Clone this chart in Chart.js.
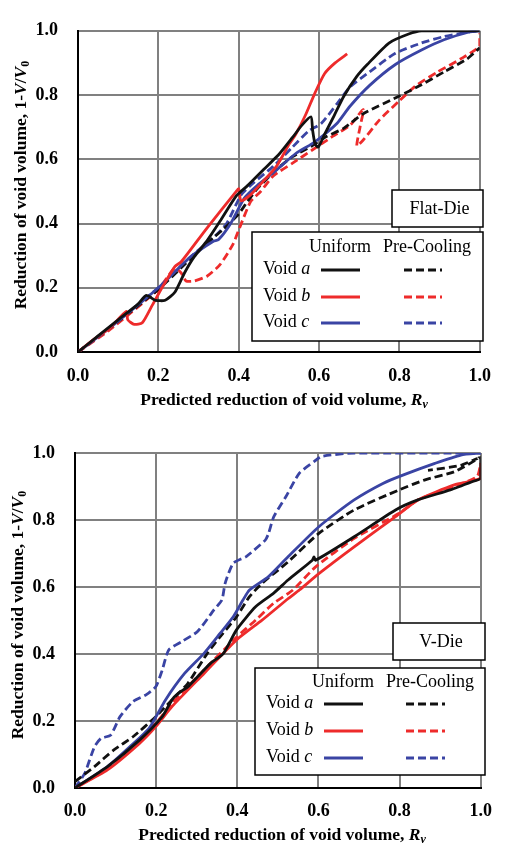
<!DOCTYPE html>
<html>
<head>
<meta charset="utf-8">
<script src="https://cdn.jsdelivr.net/npm/chart.js@4.4.1/dist/chart.umd.min.js"></script>
<style>
body { margin: 0; background: #fff; }
canvas { display: block; }
</style>
</head>
<body>
<canvas id="flat" width="505" height="420"></canvas>
<canvas id="vdie" width="505" height="425"></canvas>
<script>
// points are [predicted reduction Rv, measured reduction 1-V/V0]

// Flat-Die
const flatUniformA = [[0,0],[0.05,0.05],[0.1,0.1],[0.15,0.15],[0.17,0.176],[0.193,0.161],[0.217,0.161],[0.241,0.186],[0.265,0.246],[0.289,0.296],[0.321,0.346],[0.353,0.406],[0.394,0.486],[0.422,0.518],[0.462,0.568],[0.502,0.618],[0.534,0.668],[0.558,0.707],[0.58,0.732],[0.584,0.69],[0.59,0.648],[0.598,0.638],[0.614,0.678],[0.638,0.737],[0.662,0.797],[0.694,0.858],[0.72,0.895],[0.774,0.962],[0.823,0.99],[0.855,1.0],[1.0,1.0]]
const flatUniformB = [[0,0],[0.04,0.04],[0.08,0.076],[0.12,0.126],[0.124,0.1],[0.14,0.086],[0.16,0.091],[0.185,0.146],[0.209,0.2],[0.241,0.266],[0.257,0.281],[0.321,0.386],[0.394,0.5],[0.4,0.508],[0.406,0.471],[0.43,0.49],[0.46,0.53],[0.494,0.578],[0.526,0.648],[0.542,0.678],[0.566,0.737],[0.59,0.807],[0.614,0.867],[0.64,0.9],[0.67,0.928]]
const flatUniformC = [[0,0],[0.08,0.076],[0.2,0.2],[0.28,0.296],[0.337,0.345],[0.35,0.35],[0.38,0.4],[0.414,0.479],[0.446,0.518],[0.486,0.558],[0.542,0.618],[0.582,0.648],[0.614,0.678],[0.645,0.712],[0.677,0.765],[0.726,0.83],[0.79,0.895],[0.855,0.94],[0.911,0.972],[0.976,0.997],[1.0,1.0]]
const flatPreA = [[0,0],[0.08,0.076],[0.2,0.195],[0.28,0.29],[0.337,0.356],[0.36,0.38],[0.4,0.43],[0.422,0.469],[0.446,0.508],[0.494,0.568],[0.534,0.608],[0.58,0.64],[0.614,0.668],[0.662,0.697],[0.71,0.742],[0.8,0.797],[0.855,0.832],[0.911,0.872],[0.968,0.912],[1.0,0.947]]
const flatPreB = [[0,0],[0.08,0.07],[0.2,0.195],[0.241,0.262],[0.257,0.246],[0.269,0.221],[0.289,0.221],[0.321,0.236],[0.353,0.271],[0.386,0.336],[0.402,0.386],[0.43,0.469],[0.454,0.499],[0.486,0.548],[0.534,0.588],[0.582,0.628],[0.63,0.668],[0.678,0.707],[0.71,0.755],[0.702,0.7],[0.694,0.642],[0.71,0.66],[0.75,0.722],[0.8,0.782],[0.839,0.827],[0.895,0.872],[0.952,0.912],[1.0,0.952],[1.0,0.992]]
const flatPreC = [[0,0],[0.08,0.078],[0.2,0.2],[0.28,0.296],[0.337,0.356],[0.37,0.4],[0.406,0.489],[0.438,0.528],[0.486,0.578],[0.534,0.638],[0.574,0.688],[0.606,0.712],[0.646,0.775],[0.677,0.825],[0.718,0.865],[0.79,0.93],[0.855,0.962],[0.911,0.982],[0.976,0.997],[1.0,1.0]]

// V-Die
const vUniformA = [[0,0],[0.08,0.064],[0.159,0.143],[0.215,0.213],[0.239,0.263],[0.255,0.283],[0.278,0.302],[0.302,0.332],[0.334,0.372],[0.366,0.402],[0.398,0.472],[0.445,0.541],[0.489,0.581],[0.525,0.621],[0.585,0.68],[0.589,0.69],[0.593,0.68],[0.688,0.75],[0.79,0.83],[0.845,0.86],[0.925,0.89],[0.98,0.915],[1.0,0.925],[1.0,0.99]]
const vUniformB = [[0,0],[0.08,0.054],[0.159,0.133],[0.199,0.183],[0.239,0.243],[0.318,0.342],[0.398,0.442],[0.461,0.501],[0.525,0.565],[0.553,0.591],[0.601,0.64],[0.688,0.72],[0.79,0.81],[0.845,0.86],[0.935,0.905],[1.0,0.925],[1.0,0.97]]
const vUniformC = [[0,0],[0.08,0.064],[0.135,0.123],[0.183,0.179],[0.223,0.263],[0.27,0.342],[0.318,0.402],[0.358,0.462],[0.39,0.511],[0.414,0.561],[0.43,0.591],[0.477,0.631],[0.525,0.69],[0.601,0.78],[0.688,0.86],[0.76,0.91],[0.808,0.934],[0.887,0.969],[0.951,0.994],[1.0,1.0]]
const vPreA = [[0,0.019],[0.048,0.064],[0.095,0.113],[0.143,0.153],[0.199,0.213],[0.239,0.263],[0.278,0.312],[0.326,0.402],[0.358,0.452],[0.398,0.511],[0.43,0.571],[0.461,0.611],[0.525,0.675],[0.601,0.76],[0.688,0.83],[0.799,0.89],[0.863,0.92],[0.935,0.944],[0.995,0.985],[0.95,0.963],[0.87,0.948]]
const vPreB = [[0,0],[0.08,0.058],[0.199,0.193],[0.239,0.253],[0.318,0.352],[0.398,0.45],[0.445,0.501],[0.489,0.551],[0.537,0.591],[0.593,0.66],[0.688,0.745],[0.799,0.82],[0.845,0.86],[0.935,0.9],[0.991,0.93],[1.0,0.97]]
const vPreC = [[0,0],[0.024,0.044],[0.048,0.123],[0.064,0.148],[0.088,0.158],[0.111,0.213],[0.143,0.258],[0.175,0.278],[0.199,0.302],[0.215,0.352],[0.231,0.412],[0.263,0.437],[0.302,0.467],[0.342,0.531],[0.362,0.561],[0.37,0.611],[0.39,0.671],[0.422,0.691],[0.469,0.74],[0.477,0.76],[0.49,0.81],[0.52,0.87],[0.553,0.94],[0.59,0.975],[0.608,0.99],[0.688,1.0],[1.0,1.0]]

const tickValues = [0, 0.2, 0.4, 0.6, 0.8, 1.0]
const voidNames = ['a', 'b', 'c']
const columnHeads = ['Uniform', 'Pre-Cooling']
const dieNames = ['Flat-Die', 'V-Die']

const serif = '"Liberation Serif", "Times New Roman", serif'
const colors = ['#111111', '#ee2b2b', '#3a44a4']
const dash = [8, 4]

function makeSets(uni, pre) {
        const sets = []
        uni.forEach((pts, i) => sets.push({
                data: pts.map(p => ({x: p[0], y: p[1]})),
                borderColor: colors[i], borderWidth: 2.8, borderDash: []
        }))
        pre.forEach((pts, i) => sets.push({
                data: pts.map(p => ({x: p[0], y: p[1]})),
                borderColor: colors[i], borderWidth: 2.8, borderDash: dash
        }))
        sets.forEach(s => {
                s.showLine = true
                s.pointRadius = 0
                s.tension = 0.2
                s.fill = false
        })
        return sets
}

// draws text pieces of mixed style one after another
function richText(ctx, parts, x, y) {
        let w = 0
        parts.forEach(p => { ctx.font = p[1]; w += ctx.measureText(p[0]).width })
        let cx = x - w / 2
        parts.forEach(p => {
                ctx.font = p[1]
                ctx.fillText(p[0], cx, y + (p[2] || 0))
                cx += ctx.measureText(p[0]).width
        })
}

const panelPlugin = {
        id: 'panel',
        afterDraw(chart, args, o) {
                const ctx = chart.ctx
                const sets = chart.data.datasets
                const bold = 'bold 17.5px ' + serif
                const boldIt = 'italic bold 17.5px ' + serif
                const subFont = 'bold 12px ' + serif
                ctx.save()
                ctx.fillStyle = '#000'
                ctx.textBaseline = 'middle'

                // axis titles
                richText(ctx, [['Predicted reduction of void volume, ', bold], ['R', boldIt], ['v', 'italic bold 12px ' + serif, 5]], o.xTitle[0], o.xTitle[1])
                ctx.translate(o.yTitle[0], o.yTitle[1])
                ctx.rotate(-Math.PI / 2)
                richText(ctx, [['Reduction of void volume, 1-', bold], ['V', boldIt], ['/', bold], ['V', boldIt], ['0', subFont, 5]], 0, 0)
                ctx.setTransform(1, 0, 0, 1, 0, 0)

                // die name box
                const n = o.nameBox
                ctx.fillStyle = '#fff'
                ctx.fillRect(n[0], n[1], n[2] - n[0], n[3] - n[1])
                ctx.strokeStyle = '#000'
                ctx.lineWidth = 1.5
                ctx.strokeRect(n[0], n[1], n[2] - n[0], n[3] - n[1])
                ctx.fillStyle = '#000'
                ctx.font = '18px ' + serif
                ctx.textAlign = 'center'
                ctx.fillText(o.name, (n[0] + n[2]) / 2 + 2, (n[1] + n[3]) / 2 + 1)

                // legend box
                const b = o.legendBox
                ctx.fillStyle = '#fff'
                ctx.fillRect(b[0], b[1], b[2] - b[0], b[3] - b[1])
                ctx.strokeRect(b[0], b[1], b[2] - b[0], b[3] - b[1])
                ctx.fillStyle = '#000'
                ctx.font = '18px ' + serif
                ctx.fillText(columnHeads[0], o.heads[0], o.headY)
                ctx.fillText(columnHeads[1], o.heads[1], o.headY)
                ctx.textAlign = 'left'
                voidNames.forEach((v, i) => {
                        const y = o.rows[i]
                        ctx.font = '18px ' + serif
                        ctx.fillText('Void ', o.textX, y)
                        const w = ctx.measureText('Void ').width
                        ctx.font = 'italic 18px ' + serif
                        ctx.fillText(v, o.textX + w, y)
                        ;[o.solid, o.dashed].forEach((seg, k) => {
                                const s = sets[i + k * 3]
                                ctx.strokeStyle = s.borderColor
                                ctx.lineWidth = 3
                                ctx.setLineDash(s.borderDash)
                                ctx.beginPath()
                                ctx.moveTo(seg[0], y + 1)
                                ctx.lineTo(seg[1], y + 1)
                                ctx.stroke()
                        })
                        ctx.setLineDash([])
                })
                ctx.restore()
        }
}

function makeChart(id, sets, lay, panel) {
        return new Chart(document.getElementById(id), {
                type: 'scatter',
                data: { datasets: sets },
                options: {
                        responsive: false,
                        animation: false,
                        devicePixelRatio: 1,
                        layout: { padding: { top: lay.top, right: lay.right, left: 0, bottom: 0 } },
                        plugins: { legend: { display: false }, tooltip: { enabled: false }, panel: panel },
                        scales: {
                                x: {
                                        type: 'linear', min: 0, max: 1,
                                        afterBuildTicks: s => { s.ticks = tickValues.map(v => ({ value: v })) },
                                        afterFit: s => { s.height = lay.xHeight },
                                        ticks: { color: '#000', padding: lay.xPad, maxRotation: 0, font: { family: serif, size: 18, weight: 'bold' }, callback: v => v.toFixed(1) },
                                        grid: { color: '#808080', lineWidth: 2, drawTicks: false },
                                        border: { color: '#000', width: 2 }
                                },
                                y: {
                                        type: 'linear', min: 0, max: 1,
                                        afterBuildTicks: s => { s.ticks = tickValues.map(v => ({ value: v })) },
                                        afterFit: s => { s.width = lay.yWidth },
                                        ticks: { color: '#000', padding: lay.yPad, font: { family: serif, size: 18, weight: 'bold' }, callback: v => v.toFixed(1) },
                                        grid: { color: '#808080', lineWidth: 2, drawTicks: false },
                                        border: { color: '#000', width: 2 }
                                }
                        }
                },
                plugins: [panelPlugin]
        })
}

makeChart('flat', makeSets([flatUniformA, flatUniformB, flatUniformC], [flatPreA, flatPreB, flatPreC]),
        { top: 19, right: 12, xHeight: 68, yWidth: 78, xPad: 14, yPad: 20 },
        {
                name: dieNames[0], xTitle: [284, 400], yTitle: [21, 185],
                nameBox: [392, 190, 483, 227], legendBox: [252, 232, 483, 341],
                heads: [340, 427], headY: 247, rows: [269, 296, 322], textX: 263,
                solid: [321, 360], dashed: [404, 442]
        })

makeChart('vdie', makeSets([vUniformA, vUniformB, vUniformC], [vPreA, vPreB, vPreC]),
        { top: 33, right: 11, xHeight: 57, yWidth: 75, xPad: 13, yPad: 20 },
        {
                name: dieNames[1], xTitle: [282, 415], yTitle: [18, 195],
                nameBox: [393, 203, 485, 240], legendBox: [255, 248, 485, 355],
                heads: [343, 430], headY: 262, rows: [283, 310, 337], textX: 266,
                solid: [324, 363], dashed: [406, 445]
        })
</script>
</body>
</html>
